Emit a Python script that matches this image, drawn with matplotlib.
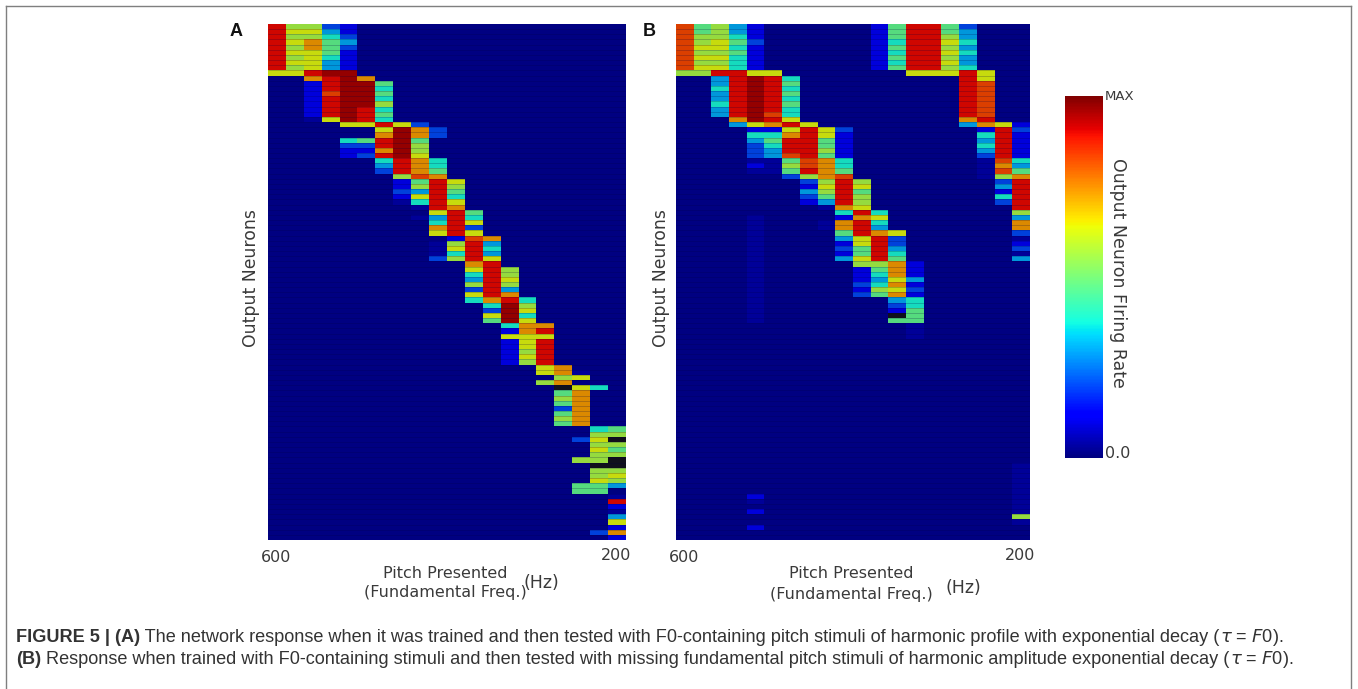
# -*- coding: utf-8 -*-
"""Network response heatmaps, panels A and B, with shared colour bar."""
import numpy as np
import matplotlib
matplotlib.use("Agg")
import matplotlib.pyplot as plt
from matplotlib.cm import ScalarMappable
from matplotlib.colors import ListedColormap, Normalize
from matplotlib.lines import Line2D

W, H = 1358, 689

# firing rate codes used in the row strings below
CODE_VALUES = {".": 0.02, "-": 0.045, "1": 0.12, "2": 0.2, "3": 0.3, "4": 0.38,
               "5": 0.47, "6": 0.56, "7": 0.63, "8": 0.74, "9": 0.83,
               "R": 0.9, "X": 0.96, "K": np.nan}

# one string per output neuron (top to bottom), one char per pitch (600 -> 200 Hz)
PANEL_A_ROWS = [
    "R6621", "R7731", "R6642", "R7853", "R6852",
    "R7751", "R6741", "R7731", "R6731", "77RXX",
    "..8RX8", "..1RXX5", "..1RXX4", "..19XX5", "..1RXX4",
    "..1RXX6", "..1RXR4", "..1RXR5", "..-7XR4", "....77R72",
    "......7X82", "......8X82", "....45RX5", "....22RX6", "....118X6",
    "....12RX7", "......4R84", "......3R84", "......2R85", ".......698",
    ".......15R7", ".......16R6", ".......23R5", ".......17R4", ".......-4R7",
    "........-R8", ".........7R5", "........-3R4", ".........4R7", ".........8R2",
    ".........7R7", "..........198", ".........-6R3", ".........-7R4", ".........-4R3",
    ".........26R7", "...........8R", "...........7R6", "...........4R6", "...........3R7",
    "...........6R6", "...........2R3", "...........7R8", "...........48R4", "............4X6",
    "............2X7", "............7X4", "............5X7", ".............488", ".............18R",
    ".............777", ".............17R", ".............17R", ".............16R", ".............17R",
    ".............16R", "...............78", "...............78-", "................67", "...............68",
    "................K74", "................58", "................68", "................58", "................28",
    "................58", "................68", "................58", "..................45", "..................66",
    ".................27K", "..................66", "..................75", "..................66", ".................66K",
    "..................KK", "..................66", "..................67", "..................76", ".................553",
    ".................55", "...................-", "...................R", "...................1", "...................-",
    "...................3", "...................7", "...................1", "..................28", "...................1",
]

PANEL_B_ROWS = [
    "95631......15RR52", "95631......15RR53", "96641......15RR63", "96752......14RR74", "97741......15RR63",
    "96651......14RR74", "97741......15RR63", "96641......14RR73", "97741......15RR64", "66RR77.......777R7",
    "..3RXR4.........R7", "..3RXR5.........R9", "..4RXR4.........R9", "..3RXR5.........R9", "..3RXR4.........R9",
    "..4RXR5.........R9", "..3RXR4.........R9", "..3RX94.........R9", "...8XR7.........8R", "...378R7........3871",
    "....117R72.......1R2", "....448R71.......4R1", "....35RR51.......3R1", "....24RR51.......4R1", "....23RR61.......3R1",
    "....239R51.......2R1", "....--5984.......-94", "....1-6984.......-83", "....--5R85.......-95", "......2689.......-68",
    ".......26R6.......2R", ".......17R7.......3R", ".......36R5.......1R", ".......25R6.......4R", ".......13R6.......2R",
    "........-87........R", ".........4R4.......6", "....-....187.......3", "....-...-8R4.......8", "....-...-8R3.......8",
    "....-....5R87......2", "....-....37R2......-", "....-....17R2......1", "....-....25R3......2", "....-....15R4......-",
    "....-....37R5......3", "....-.....6681", "....-.....1581", "....-.....1481", "....-.....1373",
    "....-.....2481", "....-.....1672", "....-.....2581", "....-.......34", "....-.......24",
    "....-.......15", "....-.......K5", "....-.......55", ".............-", ".............-",
    ".............-", "", "", "", "",
    "", "", "", "", "",
    "", "", "", "", "",
    "", "", "", "", "",
    "", "", "", "", "",
    "...................-", "...................-", "...................-", "...................-", "...................-",
    "...................-", "....1..............-", "....-..............-", "...................-", "....1..............-",
    "...................6", "...................-", "....1", "", "",
]

TICK_LEFT = "600"
TICK_RIGHT = "200"
YLABEL = "Output Neurons"
XLABEL_TOP = "Pitch Presented"
XLABEL_BOTTOM = "(Fundamental Freq.)"
XUNIT = "(Hz)"
CBAR_LABEL = "Output Neuron FIring Rate"
CBAR_MAX = "MAX"
CBAR_MIN = "0.0"

TEXT = "#3a3a3a"


def _rows_to_matrix(rows):
    return np.array([[CODE_VALUES[c] for c in r.ljust(20, ".")] for r in rows])


def _px_axes(fig, x0, y0, x1, y1):
    return fig.add_axes([x0 / W, 1 - y1 / H, (x1 - x0) / W, (y1 - y0) / H])


def _label(fig, x, y, s, **kw):
    kw.setdefault("ha", "center")
    kw.setdefault("va", "center")
    kw.setdefault("color", TEXT)
    kw.setdefault("fontfamily", "DejaVu Sans")
    kw.setdefault("fontsize", 11.5)
    return fig.text(x / W, 1 - y / H, s, **kw)


def _panel(fig, cmap, rows, box, letter, letter_x, ylabel_x, hz_xy, label_bottom_y):
    ax = _px_axes(fig, *box)
    data = _rows_to_matrix(rows)
    ax.imshow(data, cmap=cmap, vmin=0, vmax=1, aspect="auto", interpolation="nearest")
    # thin darker lines between neurons
    ax.hlines(np.arange(data.shape[0]) + 0.5, -0.5, data.shape[1] - 0.5,
              color="#000040", linewidth=0.5, alpha=0.3)
    ax.axis("off")

    x0, y0, x1, y1 = box
    xmid = (x0 + x1) / 2 - 2
    _label(fig, letter_x, 31, letter, fontweight="bold", fontsize=13, color="#111111",
           fontfamily="Liberation Sans")
    _label(fig, ylabel_x, 278, YLABEL, rotation=90, fontsize=12.4)
    _label(fig, x0 + 8, 557, TICK_LEFT)
    _label(fig, x1 - 10, 555, TICK_RIGHT)
    _label(fig, xmid, 573, XLABEL_TOP)
    _label(fig, xmid, label_bottom_y, XLABEL_BOTTOM)
    _label(fig, hz_xy[0], hz_xy[1], XUNIT, fontsize=12.5)


def _runs(fig, x, y, parts, size=13.1):
    """Write bold and regular pieces one after the other on a line."""
    renderer = fig.canvas.get_renderer()
    for s, weight in parts:
        t = fig.text(x / W, 1 - y / H, s, fontsize=size, fontweight=weight, color="#333333",
                     fontfamily="Liberation Sans", va="center", ha="left")
        x = t.get_window_extent(renderer).x1


def main():
    fig = plt.figure(figsize=(W / 100, H / 100), dpi=100, facecolor="white")

    # the heatmaps read a little darker than the colour bar
    shades = plt.get_cmap("jet")(np.linspace(0, 1, 256))
    shades[:, :3] *= 0.86
    cmap = ListedColormap(shades)
    cmap.set_bad("#10101c")

    _panel(fig, cmap, PANEL_A_ROWS, (268, 24, 626, 540), "A", 236, 251, (541, 583), 592)
    _panel(fig, cmap, PANEL_B_ROWS, (676, 24, 1030, 540), "B", 649, 661, (963, 588), 594)

    cax = _px_axes(fig, 1065, 96, 1103, 458)
    cb = fig.colorbar(ScalarMappable(Normalize(0, 1), "jet"), cax=cax)
    cb.set_ticks([])
    cb.outline.set_visible(False)
    _label(fig, 1105, 97, CBAR_MAX, ha="left", fontsize=9.5)
    _label(fig, 1105, 453, CBAR_MIN, ha="left", fontsize=11.5)
    _label(fig, 1118, 273, CBAR_LABEL, rotation=270, fontsize=12.5)

    # caption frame: open at the bottom
    frame = dict(color="#7f7f7f", linewidth=1.0, transform=fig.transFigure)
    fig.add_artist(Line2D([6 / W, 6 / W], [0, 1 - 6 / H], **frame))
    fig.add_artist(Line2D([6 / W, 1351 / W], [1 - 6 / H, 1 - 6 / H], **frame))
    fig.add_artist(Line2D([1351 / W, 1351 / W], [0, 1 - 6 / H], **frame))

    _runs(fig, 16, 637, [
        ("FIGURE 5 | (A)", "bold"),
        (" The network response when it was trained and then tested with F0-containing "
         "pitch stimuli of harmonic profile with exponential decay (", "normal"),
        (r"$\tau$ = $F$0).", "normal"),
    ])
    _runs(fig, 16, 659, [
        ("(B)", "bold"),
        (" Response when trained with F0-containing stimuli and then tested with missing "
         "fundamental pitch stimuli of harmonic amplitude exponential decay (", "normal"),
        (r"$\tau$ = $F$0).", "normal"),
    ])

    fig.savefig("out.png", dpi=100, facecolor="white")
    plt.close(fig)


if __name__ == "__main__":
    main()
